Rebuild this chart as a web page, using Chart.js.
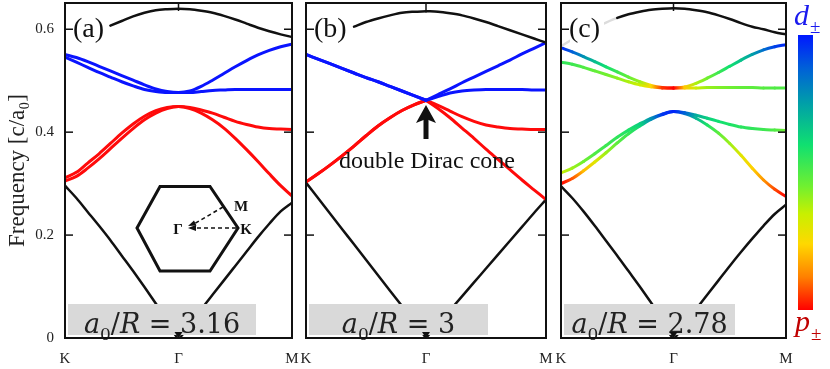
<!DOCTYPE html>
<html>
<head>
<meta charset="utf-8">
<script src="https://cdn.jsdelivr.net/npm/chart.js@4.4.0/dist/chart.umd.min.js"></script>
<style>
  html, body { margin: 0; padding: 0; background: #fff; }
  #wrap { position: relative; width: 830px; height: 369px; }
  canvas { position: absolute; left: 0; top: 0; }
</style>
</head>
<body>
<div id="wrap">
  <canvas id="pa" width="830" height="369"></canvas>
  <canvas id="pb" width="830" height="369"></canvas>
  <canvas id="pc" width="830" height="369"></canvas>
</div>
<script>
// k path K -> Gamma -> M, Gamma at 1
var kPath = [0, 0.1, 0.2, 0.3, 0.4, 0.5, 0.6, 0.7, 0.8, 0.9, 1, 1.1, 1.2, 1.3, 1.4, 1.5, 1.6, 1.7, 1.8, 1.9, 2];
var kLabels = ['K', 'Γ', 'M'];
var freqTicks = [0, 0.2, 0.4, 0.6];
var freqMax = 0.651;

// (a) a0/R = 3.16
var aBlack1 = [0.296, 0.272, 0.245, 0.218, 0.190, 0.160, 0.130, 0.099, 0.067, 0.035, 0.0, 0.028, 0.056, 0.084, 0.112, 0.140, 0.168, 0.196, 0.222, 0.246, 0.263];
var aRed1 = [0.311, 0.322, 0.340, 0.358, 0.378, 0.398, 0.416, 0.431, 0.442, 0.448, 0.450, 0.448, 0.443, 0.437, 0.429, 0.421, 0.415, 0.410, 0.407, 0.406, 0.405];
var aRed2 = [0.305, 0.314, 0.330, 0.348, 0.368, 0.388, 0.407, 0.424, 0.437, 0.446, 0.450, 0.446, 0.437, 0.424, 0.408, 0.388, 0.366, 0.343, 0.319, 0.296, 0.276];
var aBlue1 = [0.551, 0.545, 0.537, 0.528, 0.519, 0.510, 0.501, 0.492, 0.484, 0.479, 0.477, 0.480, 0.489, 0.501, 0.514, 0.527, 0.539, 0.550, 0.559, 0.566, 0.571];
var aBlue2 = [0.546, 0.536, 0.526, 0.516, 0.507, 0.498, 0.490, 0.483, 0.479, 0.477, 0.477, 0.477, 0.479, 0.481, 0.482, 0.483, 0.483, 0.483, 0.483, 0.483, 0.483];
var aBlack2 = [null, null, null, null, 0.607, 0.616, 0.625, 0.632, 0.637, 0.639, 0.640, 0.639, 0.636, 0.632, 0.626, 0.619, 0.611, 0.603, 0.596, 0.590, 0.585];

// (b) a0/R = 3
var bBlack1 = [0.302, 0.272, 0.242, 0.212, 0.182, 0.152, 0.122, 0.092, 0.062, 0.032, 0.0, 0.027, 0.054, 0.081, 0.108, 0.135, 0.162, 0.189, 0.216, 0.243, 0.269];
var bRed1 = [0.303, 0.319, 0.336, 0.354, 0.373, 0.393, 0.412, 0.428, 0.442, 0.453, 0.462, 0.452, 0.441, 0.430, 0.421, 0.414, 0.410, 0.407, 0.406, 0.405, 0.405];
var bRed2 = [0.303, 0.319, 0.336, 0.354, 0.373, 0.393, 0.412, 0.428, 0.442, 0.453, 0.462, 0.446, 0.428, 0.408, 0.388, 0.367, 0.347, 0.327, 0.307, 0.288, 0.269];
var bBlue1 = [0.551, 0.542, 0.533, 0.524, 0.515, 0.506, 0.498, 0.489, 0.480, 0.471, 0.462, 0.473, 0.484, 0.496, 0.507, 0.518, 0.529, 0.540, 0.552, 0.563, 0.574];
var bBlue2 = [0.551, 0.542, 0.533, 0.524, 0.515, 0.506, 0.498, 0.489, 0.480, 0.471, 0.462, 0.469, 0.476, 0.480, 0.482, 0.483, 0.483, 0.483, 0.483, 0.482, 0.482];
var bBlack2 = [null, null, null, null, 0.605, 0.614, 0.621, 0.627, 0.632, 0.634, 0.635, 0.634, 0.631, 0.627, 0.621, 0.614, 0.606, 0.598, 0.590, 0.582, 0.574];

// (c) a0/R = 2.78, weights: 0 = d (blue), 1 = p (red)
var cBlack1 = [0.295, 0.272, 0.246, 0.218, 0.189, 0.160, 0.130, 0.100, 0.069, 0.037, 0.0, 0.028, 0.056, 0.084, 0.112, 0.140, 0.167, 0.193, 0.218, 0.241, 0.259];
var cTop = [0.567, 0.580, 0.592, 0.603, 0.613, 0.622, 0.629, 0.634, 0.638, 0.640, 0.641, 0.640, 0.637, 0.633, 0.627, 0.620, 0.612, 0.605, 0.600, 0.594, 0.590];
var cUp1 = [0.564, 0.556, 0.547, 0.537, 0.527, 0.517, 0.507, 0.498, 0.491, 0.487, 0.486, 0.488, 0.495, 0.505, 0.516, 0.528, 0.540, 0.551, 0.560, 0.566, 0.570];
var cUp1W = [0.02, 0.12, 0.22, 0.32, 0.40, 0.47, 0.53, 0.60, 0.75, 0.95, 1.0, 0.78, 0.62, 0.55, 0.47, 0.40, 0.33, 0.25, 0.15, 0.07, 0.02];
var cUp2 = [0.536, 0.532, 0.526, 0.519, 0.512, 0.505, 0.498, 0.492, 0.488, 0.486, 0.486, 0.486, 0.486, 0.487, 0.487, 0.487, 0.487, 0.487, 0.486, 0.486, 0.486];
var cUp2W = [0.45, 0.47, 0.50, 0.53, 0.55, 0.58, 0.62, 0.66, 0.75, 0.95, 1.0, 0.78, 0.66, 0.60, 0.57, 0.55, 0.53, 0.52, 0.51, 0.50, 0.50];
var cLo1 = [0.321, 0.330, 0.343, 0.358, 0.374, 0.390, 0.404, 0.416, 0.427, 0.435, 0.440, 0.438, 0.433, 0.427, 0.421, 0.415, 0.410, 0.407, 0.405, 0.404, 0.403];
var cLo1W = [0.65, 0.60, 0.55, 0.50, 0.47, 0.45, 0.42, 0.36, 0.22, 0.05, 0.02, 0.12, 0.28, 0.36, 0.40, 0.42, 0.44, 0.45, 0.47, 0.50, 0.55];
var cLo2 = [0.300, 0.310, 0.325, 0.342, 0.360, 0.379, 0.397, 0.412, 0.425, 0.434, 0.440, 0.436, 0.427, 0.414, 0.398, 0.378, 0.355, 0.330, 0.307, 0.289, 0.275];
var cLo2W = [1.0, 0.92, 0.80, 0.70, 0.60, 0.52, 0.46, 0.38, 0.22, 0.05, 0.02, 0.15, 0.30, 0.42, 0.52, 0.60, 0.70, 0.77, 0.85, 0.93, 1.0];

var jetStops = [
  [0.00, [0, 24, 255]], [0.12, [0, 96, 216]], [0.25, [0, 160, 168]], [0.40, [16, 224, 112]],
  [0.55, [112, 240, 48]], [0.65, [200, 240, 0]], [0.76, [255, 216, 0]], [0.88, [255, 128, 0]], [1.00, [255, 0, 0]]
];
function jet(w) {
  for (var i = 1; i < jetStops.length; i++) {
    if (w <= jetStops[i][0]) {
      var a = jetStops[i - 1], b = jetStops[i];
      var t = (w - a[0]) / (b[0] - a[0]);
      var c = a[1].map(function (v, j) { return Math.round(v + (b[1][j] - v) * t); });
      return 'rgb(' + c.join(',') + ')';
    }
  }
  return 'rgb(255,0,0)';
}

var serif = 'Liberation Serif, Times New Roman, serif';
var BLACK = '#111', BLUE = '#0a14ff', RED = '#ff0a0a';

function band(vals, color, width, seg) {
  return {
    data: vals.map(function (v, i) { return { x: kPath[i], y: v }; }),
    borderColor: color, borderWidth: width || 2.5, spanGaps: false, segment: seg
  };
}
// split at Gamma so the cone tip stays sharp
function halves(vals, color, width) {
  return [
    band(vals.map(function (v, i) { return i <= 10 ? v : null; }), color, width),
    band(vals.map(function (v, i) { return i >= 10 ? v : null; }), color, width)
  ];
}
function jetSeg(w) {
  return {
    borderColor: function (c) {
      var g = c.chart.ctx.createLinearGradient(c.p0.x, c.p0.y, c.p1.x, c.p1.y);
      g.addColorStop(0, jet(w[c.p0DataIndex]));
      g.addColorStop(1, jet(w[c.p1DataIndex]));
      return g;
    }
  };
}

function line(ctx, x1, y1, x2, y2) {
  ctx.beginPath(); ctx.moveTo(x1, y1); ctx.lineTo(x2, y2); ctx.stroke();
}

function drawMath(ctx, cx, base, tail) {
  var big = '27px DejaVu Serif', bigI = 'italic 27px DejaVu Serif', sub = '17px DejaVu Serif';
  var parts = [[bigI, 'a', 0], [sub, '0', 7], [big, '/', 0], [bigI, 'R', 0], [big, ' = ' + tail, 0]];
  var w = 0;
  parts.forEach(function (p) { ctx.font = p[0]; w += ctx.measureText(p[1]).width; });
  var x = cx - w / 2;
  ctx.fillStyle = '#222';
  ctx.textAlign = 'left'; ctx.textBaseline = 'alphabetic';
  parts.forEach(function (p) { ctx.font = p[0]; ctx.fillText(p[1], x, base + p[2]); x += ctx.measureText(p[1]).width; });
}

function frame(chart, label, tail, boxW) {
  var ctx = chart.ctx, a = chart.chartArea, x = chart.scales.x, y = chart.scales.y;
  ctx.save();
  // gray parameter box
  ctx.fillStyle = '#d9d9d9';
  ctx.fillRect(a.left + 3, 304, boxW, 31);
  drawMath(ctx, a.left + 3 + boxW / 2, 333, tail);
  // panel label
  ctx.fillStyle = '#fff';
  ctx.fillRect(a.left + 9, a.top + 14, 34, 30);
  ctx.fillStyle = '#111';
  ctx.font = '28px ' + serif;
  ctx.textAlign = 'left'; ctx.textBaseline = 'alphabetic';
  ctx.fillText(label, a.left + 8, 37);
  // box and inside ticks
  ctx.strokeStyle = '#111';
  ctx.lineWidth = 2;
  ctx.strokeRect(a.left, a.top, a.right - a.left, a.bottom - a.top);
  ctx.lineWidth = 1.5;
  freqTicks.slice(1).forEach(function (v) {
    var py = y.getPixelForValue(v);
    line(ctx, a.left, py, a.left + 8, py);
    line(ctx, a.right - 8, py, a.right, py);
  });
  var gx = x.getPixelForValue(1);
  line(ctx, gx, a.top, gx, a.top + 8);
  ctx.fillStyle = '#111';
  ctx.beginPath();
  ctx.moveTo(gx - 4, a.bottom - 6); ctx.lineTo(gx + 4, a.bottom - 6); ctx.lineTo(gx, a.bottom);
  ctx.closePath(); ctx.fill();
  ctx.restore();
}

function insetBZ(ctx) {
  ctx.save();
  ctx.strokeStyle = '#111'; ctx.lineWidth = 3; ctx.lineJoin = 'miter';
  var hx = [137, 160, 210, 238, 210, 160], hy = [228, 186.5, 186.5, 228, 271, 271];
  ctx.beginPath();
  hx.forEach(function (v, i) { if (i === 0) ctx.moveTo(v, hy[i]); else ctx.lineTo(v, hy[i]); });
  ctx.closePath(); ctx.stroke();
  ctx.lineWidth = 1.6; ctx.setLineDash([4, 3]);
  line(ctx, 236, 228, 194, 228);
  line(ctx, 223, 207, 194, 224);
  ctx.setLineDash([]);
  ctx.fillStyle = '#111';
  ctx.beginPath(); ctx.moveTo(188, 228); ctx.lineTo(196, 225); ctx.lineTo(196, 231); ctx.closePath(); ctx.fill();
  ctx.beginPath(); ctx.moveTo(188, 226); ctx.lineTo(194, 220.5); ctx.lineTo(196.5, 225.5); ctx.closePath(); ctx.fill();
  ctx.font = 'bold 15px ' + serif;
  ctx.textAlign = 'center'; ctx.textBaseline = 'alphabetic';
  ctx.fillText('Γ', 178, 234);
  ctx.fillText('K', 246, 234);
  ctx.fillText('M', 241, 211);
  ctx.restore();
}

function makeChart(id, padL, padR, datasets, showY, draw) {
  return new Chart(document.getElementById(id), {
    type: 'line',
    data: { datasets: datasets },
    options: {
      responsive: false,
      animation: false,
      layout: { padding: { left: padL, right: padR, top: 3, bottom: 0 } },
      plugins: { legend: { display: false }, tooltip: { enabled: false } },
      elements: {
        point: { radius: 0 },
        line: { cubicInterpolationMode: 'monotone', borderCapStyle: 'round', borderJoinStyle: 'round' }
      },
      scales: {
        x: {
          type: 'linear', min: 0, max: 2,
          grid: { display: false, drawTicks: false },
          border: { display: false },
          ticks: {
            stepSize: 1, padding: 12, autoSkip: false, maxRotation: 0, color: '#222',
            font: { family: serif, size: 15 },
            callback: function (v) { return kLabels[Math.round(v)]; }
          },
          afterFit: function (s) { s.height = 31; s.paddingLeft = 0; s.paddingRight = 0; }
        },
        y: {
          display: showY, min: 0, max: freqMax,
          grid: { display: false, drawTicks: false },
          border: { display: false },
          ticks: {
            stepSize: 0.2, includeBounds: false, padding: 11, color: '#222',
            font: { family: serif, size: 15 },
            callback: function (v) { return v === 0 ? '0' : v.toFixed(1); }
          },
          title: {
            display: true, text: 'Frequency [c/a₀]', color: '#222',
            font: { family: serif, size: 23 }, padding: { top: 4, bottom: 0 }
          },
          afterFit: function (s) { s.width = showY ? 65 : 0; s.paddingTop = 0; s.paddingBottom = 0; }
        }
      }
    },
    plugins: [{ id: 'deco', afterDatasetsDraw: draw }]
  });
}

// panel (a)
makeChart('pa', 0, 538, [
  band(aBlack2, BLACK, 2.5),
  band(aBlue1, BLUE, 3), band(aBlue2, BLUE, 3),
  band(aRed1, RED, 3), band(aRed2, RED, 3),
  band(aBlack1, BLACK, 2.5)
], true, function (chart) {
  frame(chart, '(a)', '3.16', 188);
  insetBZ(chart.ctx);
});

// panel (b)
makeChart('pb', 306, 284, [].concat(
  halves(bBlack2, BLACK, 2.5),
  halves(bBlue1, BLUE, 3), halves(bBlue2, BLUE, 3),
  halves(bRed1, RED, 3), halves(bRed2, RED, 3),
  halves(bBlack1, BLACK, 2.5)
), false, function (chart) {
  frame(chart, '(b)', '3', 179);
  var ctx = chart.ctx, gx = chart.scales.x.getPixelForValue(1);
  ctx.save();
  ctx.fillStyle = '#111';
  ctx.fillRect(gx - 2.5, 119, 5, 20);
  ctx.beginPath(); ctx.moveTo(gx, 105); ctx.lineTo(gx + 10, 123); ctx.lineTo(gx, 119); ctx.lineTo(gx - 10, 123); ctx.closePath(); ctx.fill();
  ctx.font = '24px ' + serif;
  ctx.textAlign = 'center'; ctx.textBaseline = 'alphabetic';
  ctx.fillText('double Dirac cone', gx + 1, 168);
  ctx.restore();
});

// panel (c)
makeChart('pc', 561, 44, [
  band(cTop, BLACK, 2.5, { borderColor: function (c) { return kPath[c.p0DataIndex] < 0.5 ? '#dcdcdc' : BLACK; } }),
  band(cUp1, '#000', 3, jetSeg(cUp1W)), band(cUp2, '#000', 3, jetSeg(cUp2W)),
  band(cLo1, '#000', 3, jetSeg(cLo1W)), band(cLo2, '#000', 3, jetSeg(cLo2W)),
  band(cBlack1, BLACK, 2.5)
], false, function (chart) {
  frame(chart, '(c)', '2.78', 171);
  var ctx = chart.ctx;
  ctx.save();
  var g = ctx.createLinearGradient(0, 35, 0, 310);
  jetStops.forEach(function (s) { g.addColorStop(s[0], 'rgb(' + s[1].join(',') + ')'); });
  ctx.fillStyle = g;
  ctx.fillRect(798, 35, 15, 275);
  ctx.textAlign = 'left'; ctx.textBaseline = 'alphabetic';
  ctx.fillStyle = '#1a1aee';
  ctx.font = 'italic 30px ' + serif;
  ctx.fillText('d', 794, 25);
  ctx.font = '19px ' + serif;
  ctx.fillText('±', 810, 33);
  ctx.fillStyle = '#c00000';
  ctx.font = 'italic 30px ' + serif;
  ctx.fillText('p', 795, 331);
  ctx.font = '19px ' + serif;
  ctx.fillText('±', 811, 340);
  ctx.restore();
});
</script>
</body>
</html>
